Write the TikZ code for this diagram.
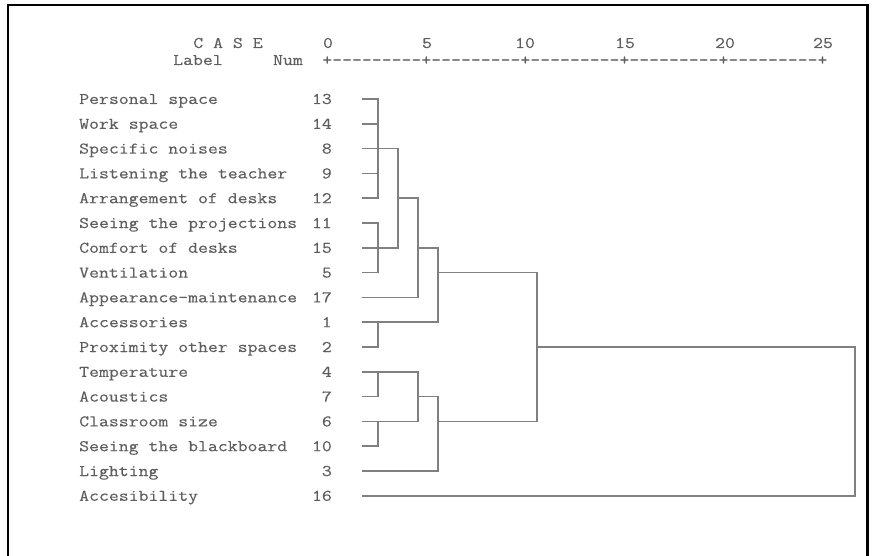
\documentclass[tikz,border=0pt]{standalone}
\usepackage{fontspec}
\setmonofont[FakeStretch=1.18,FakeBold=0.2]{Latin Modern Mono}
\definecolor{txtgray}{HTML}{5E5E5E}
\definecolor{linegray}{HTML}{808080}
\begin{document}
\begin{tikzpicture}[x=1pt,y=-1pt,
  lbl/.style={font=\ttfamily\fontsize{16.3}{18}\selectfont, text=txtgray, inner sep=0pt},
  link/.style={draw=linegray, line width=1.6pt, line cap=rect}]
\useasboundingbox (0,0) rectangle (872,556);
\fill[white] (0,0) rectangle (872,556);
\draw[line width=2.6pt] (8,560) -- (8,5) -- (867.3,5) -- (867.3,560);

% header
\node[lbl, anchor=base] (case) at (228,48) {C A S E};
\node[lbl, anchor=base west] (label) at (173,65) {Label};
\node[lbl, anchor=base east] (num) at (303,65) {Num};
\foreach \v/\xx in {0/328,5/427,10/525,15/625,20/725,25/823}
  \node[lbl, anchor=base] (t\v) at (\xx,48) {\v};
\node[lbl, anchor=base west] (axis) at (322.1,65) {+---------+---------+---------+---------+---------+};

% rows
\foreach \i/\t/\n in {0/Personal space/13, 1/Work space/14, 2/Specific noises/8,
  3/Listening the teacher/9, 4/Arrangement of desks/12, 5/Seeing the projections/11,
  6/Comfort of desks/15, 7/Ventilation/5, 8/Appearance-maintenance/17,
  9/Accessories/1, 10/Proximity other spaces/2, 11/Temperature/4, 12/Acoustics/7,
  13/Classroom size/6, 14/Seeing the blackboard/10, 15/Lighting/3, 16/Accesibility/16}{
  \pgfmathsetmacro\yy{99+24.8*\i}
  \node[lbl, anchor=base west] (lab\i) at (79,\yy+5) {\t};
  \node[lbl, anchor=base east] (num\i) at (332,\yy+5) {\n};
  \coordinate (s\i) at (363,\yy);
}

% columns
\coordinate (x1) at (378,0);
\coordinate (x2) at (398,0);
\coordinate (x3) at (418,0);
\coordinate (x4) at (438,0);
\coordinate (x5) at (537,0);
\coordinate (x6) at (855,0);

% stubs
\foreach \i in {0,1,2,3,4,5,6,7,9,10,11,12,13,14}
  \draw[link] (s\i) -- (s\i -| x1);
\draw[link] (s8) -- (s8 -| x3);
\draw[link] (s15) -- (s15 -| x4);
\draw[link] (s16) -- (s16 -| x6);

% cluster A
\draw[link] (s0 -| x1) -- (s4 -| x1);
\draw[link] (s2 -| x1) -- (s2 -| x2);
% cluster B
\draw[link] (s5 -| x1) -- (s7 -| x1);
\draw[link] (s6 -| x1) -- (s6 -| x2);
% A+B
\draw[link] (s2 -| x2) -- (s6 -| x2);
\draw[link] (s4 -| x2) -- (s4 -| x3);
% +17
\draw[link] (s4 -| x3) -- (s8 -| x3);
\draw[link] (s6 -| x3) -- (s6 -| x4);
% cluster D
\draw[link] (s9 -| x1) -- (s10 -| x1);
\draw[link] (s9 -| x1) -- (s9 -| x4);
% top group
\draw[link] (s6 -| x4) -- (s9 -| x4);
\draw[link] (s7 -| x4) -- (s7 -| x5);
% cluster E, F
\draw[link] (s11 -| x1) -- (s12 -| x1);
\draw[link] (s11 -| x1) -- (s11 -| x3);
\draw[link] (s13 -| x1) -- (s14 -| x1);
\draw[link] (s13 -| x1) -- (s13 -| x3);
% E+F
\draw[link] (s11 -| x3) -- (s13 -| x3);
\draw[link] (s12 -| x3) -- (s12 -| x4);
% +Lighting
\draw[link] (s12 -| x4) -- (s15 -| x4);
\draw[link] (s13 -| x4) -- (s13 -| x5);
% both groups
\draw[link] (s7 -| x5) -- (s13 -| x5);
\draw[link] (s10 -| x5) -- (s10 -| x6);
% final
\draw[link] (s10 -| x6) -- (s16 -| x6);
\end{tikzpicture}
\end{document}
